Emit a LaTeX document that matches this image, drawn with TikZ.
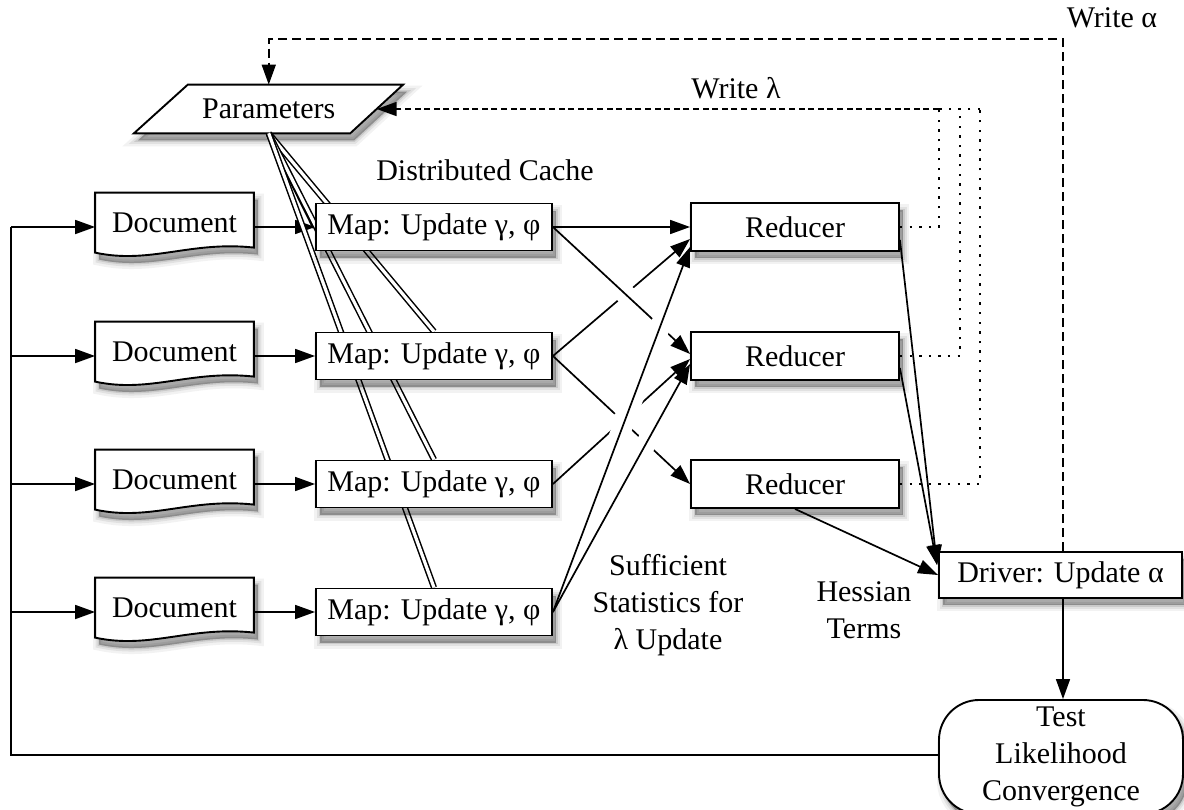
\documentclass[tikz,border=0pt]{standalone}
\usepackage{fontspec}
\setmainfont{Liberation Serif}
\usetikzlibrary{arrows.meta,calc}
\pgfdeclarelayer{bg}
\pgfdeclarelayer{edges}
\pgfsetlayers{bg,edges,main}
\begin{document}
\begin{tikzpicture}[x=0.5pt,y=-0.5pt,
  every node/.style={font=\fontsize{15}{18.5}\selectfont, inner sep=0pt},
  shad/.style={
    preaction={fill=black, draw=black, line width=6pt, opacity=0.05, transform canvas={xshift=2pt,yshift=-3.5pt}},
    preaction={fill=black, draw=black, line width=3.5pt, opacity=0.07, transform canvas={xshift=2pt,yshift=-3.5pt}},
    preaction={fill=black, draw=black, line width=1.5pt, opacity=0.1, transform canvas={xshift=2pt,yshift=-3.5pt}},
    preaction={fill=black, opacity=0.12, transform canvas={xshift=2pt,yshift=-3.5pt}}},
  box/.style={draw, line width=0.95pt, fill=white, shad},
  mapbox/.style={box, minimum width=118pt, minimum height=23.5pt},
  redbox/.style={box, minimum width=104pt, minimum height=24pt},
  docarea/.style={minimum width=79pt, minimum height=30pt},
  ln/.style={line width=0.85pt},
  tip/.style={-{Triangle[length=10pt,width=7pt]}},
  arr/.style={ln, tip},
  dbl/.style={double, line width=0.75pt, double distance=1.6pt},
  gap/.style n args={2}{preaction={draw=white, line width=10pt, -, shorten <=#1, shorten >=#2}},
  dotl/.style={line width=0.85pt, dash pattern=on 1.2pt off 3.6pt},
  densel/.style={line width=0.85pt, dash pattern=on 3pt off 1.8pt},
  dashA/.style={line width=0.85pt, dash pattern=on 4.5pt off 2.5pt},
]
\useasboundingbox (0,0) rectangle (1184,809);
\clip (0,0) rectangle (1184,809);

% ---------- nodes ----------
\node[minimum width=107.5pt, minimum height=24pt] (params) at (268.75,109) {Parameters};

\node[docarea] (d1) at (174.5,223) {Document};
\node[docarea] (d2) at (174.5,352) {Document};
\node[docarea] (d3) at (174.5,480) {Document};
\node[docarea] (d4) at (174.5,608) {Document};

\node[mapbox] (m1) at (434,227) {Map: Update γ, φ};
\node[mapbox] (m2) at (434,356) {Map: Update γ, φ};
\node[mapbox] (m3) at (434,484) {Map: Update γ, φ};
\node[mapbox] (m4) at (434,612) {Map: Update γ, φ};

\node[redbox] (r1) at (795,227) {Reducer};
\node[redbox] (r2) at (795,356) {Reducer};
\node[redbox] (r3) at (795,484) {Reducer};

\node[box, minimum width=121.5pt, minimum height=23pt] (drv) at (1060.5,575) {Driver: Update α};
\node[box, rounded corners=20pt, minimum width=122pt, minimum height=57pt, align=center] (test) at (1061,757) {Test\\Likelihood\\Convergence};

\node (dc) at (485,170) {Distributed Cache};
\node (wl) at (736,88) {Write λ};
\node (walabel) at (1112,18) {Write α};
\node[align=center] (ss) at (668,605) {Sufficient\\Statistics for\\λ Update};
\node[align=center] (ht) at (864,610) {Hessian\\Terms};

\coordinate (lx) at (11,227);
\coordinate (wa) at (1063,39);
\coordinate (c1) at (939,109);
\coordinate (c2) at (960,109);
\coordinate (c3) at (980,109);

% ---------- background shapes ----------
\begin{pgfonlayer}{bg}
  \filldraw[fill=white, line width=0.95pt, shad]
    ($(params.north west)+(27,0)$) -- ($(params.north east)+(26.5,0)$) --
    ($(params.south east)+(-26.5,0)$) -- ($(params.south west)+(-27,0)$) -- cycle;
  \foreach \d in {d1,d2,d3,d4}{
    \filldraw[fill=white, line width=0.95pt, shad]
      (\d.north west) -- (\d.north east) -- ($(\d.north east)+(0,55)$)
      .. controls ($(\d.north east)+(-63,48)$) and ($(\d.north west)+(55,72)$) ..
      ($(\d.north west)+(0,60)$) -- cycle;
  }
\end{pgfonlayer}

% ---------- connectors ----------
\begin{pgfonlayer}{edges}
  % loop back
  \draw[ln] (test.west |- 0,755) -- (lx |- 0,755) -- (lx);
  \foreach \i in {1,2,3,4}{
    \draw[arr] (lx |- m\i) -- (m\i -| d\i.west);
    \draw[arr] (m\i -| d\i.east) -- (m\i.west);
  }
  % distributed cache
  \draw[dbl] (params.south) -- (m1.west);
  \draw[dbl] (params.south) -- (m2.north);
  \draw[dbl] (params.south) -- (m3.north);
  \draw[dbl] (params.south) -- (m4.north);
  % map -> reducer
  \draw[arr] (m2.east) -- ($(r1.west)+(0,12)$);
  \draw[arr] (m2.east) -- (r3.west);
  \draw[arr, gap={25pt}{25pt}] (m1.east) -- ($(r2.west)+(0,-2)$);
  \draw[arr, gap={25pt}{25pt}] (m3.east) -- ($(r2.west)+(0,3)$);
  \draw[arr] (m1.east) -- (r1.west);
  \draw[arr, gap={37pt}{15pt}] (m4.east) -- ($(r1.west)+(0,20)$);
  \draw[arr, gap={37pt}{30pt}] (m4.east) -- ($(r2.west)+(0,8)$);
  % reducer -> driver
  \draw[arr] ($(r1.east)+(0,13)$) -- ($(drv.north west)+(-1,14)$);
  \draw[arr] ($(r2.east)+(0,12)$) -- ($(drv.north west)+(-1,14)$);
  \draw[arr] (r3.south) -- (drv.west);
  % write lambda
  \draw[dotl] (r1.east) -- (r1.east -| c1) -- (c1);
  \draw[dotl] (r2.east) -- (r2.east -| c2) -- (c2);
  \draw[dotl] (r3.east) -- (r3.east -| c3) -- (c3);
  \draw[dotl] (c3) -- (c1);
  \draw[densel, tip] (c1) -- (params.east);
  % write alpha
  \draw[dashA, tip] (drv.north -| wa) -- (wa) -- (wa -| params.north) -- (params.north);
  % driver -> test
  \draw[arr] (drv.south -| wa) -- (test.north -| wa);
\end{pgfonlayer}
\end{tikzpicture}
\end{document}
